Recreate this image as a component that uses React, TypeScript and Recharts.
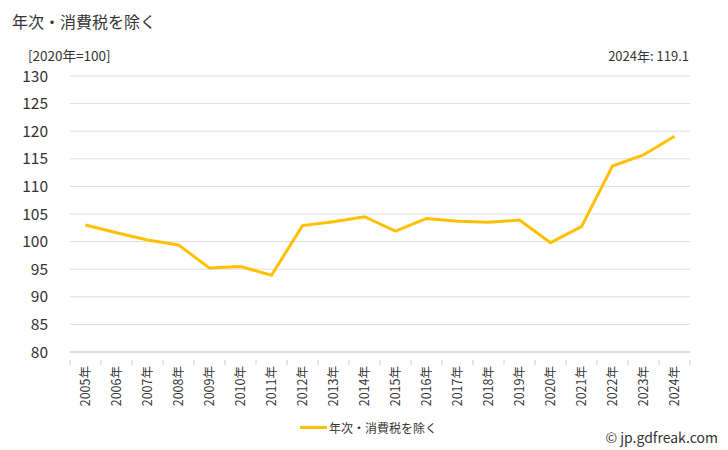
import React from 'react';
import { LineChart, Line, XAxis, YAxis, CartesianGrid } from 'recharts';

const years = ['2005年','2006年','2007年','2008年','2009年','2010年','2011年','2012年','2013年','2014年','2015年','2016年','2017年','2018年','2019年','2020年','2021年','2022年','2023年','2024年'];
const values = [103.0, 101.6, 100.3, 99.4, 95.2, 95.5, 93.9, 102.9, 103.6, 104.5, 101.9, 104.2, 103.7, 103.5, 103.9, 99.8, 102.7, 113.7, 115.7, 119.1];
const yTicks = [80, 85, 90, 95, 100, 105, 110, 115, 120, 125, 130];
const seriesName = '年次・消費税を除く';

const data = years.map((y, i) => ({ year: y, value: values[i] }));

const FONT = '"Noto Sans CJK JP", "Noto Sans", sans-serif';
const COLOR = '#FFC000';

const XTick = (props: any) => {
  const { x, y, payload, index } = props;
  const band = 31;
  const isLast = index === years.length - 1;
  return (
    <g>
      <line x1={x - band / 2} y1={y} x2={x - band / 2} y2={y + 5} stroke="#cccccc" />
      {isLast && <line x1={x + band / 2} y1={y} x2={x + band / 2} y2={y + 5} stroke="#cccccc" />}
      <text
        x={0}
        y={0}
        transform={`translate(${x + 4},${y + 6}) rotate(-90)`}
        textAnchor="end"
        fontSize={12.5}
        fill="#333"
        fontFamily={FONT}
      >
        {payload.value}
      </text>
    </g>
  );
};

export default function App() {
  return (
    <div style={{ position: 'absolute', left: 0, top: 0, width: 728, height: 450, background: '#fff', fontFamily: FONT }}>
      <div style={{ position: 'absolute', left: 12, top: 9, fontSize: 16, color: '#333' }}>{seriesName}</div>
      <div style={{ position: 'absolute', left: 28, top: 45, fontSize: 13.5, color: '#333' }}>[2020年=100]</div>
      <div style={{ position: 'absolute', right: 39, top: 46, fontSize: 13, color: '#333' }}>2024年: 119.1</div>
      <LineChart
        width={728}
        height={450}
        data={data}
        margin={{ top: 76, right: 38, bottom: 38, left: 0 }}
      >
        <CartesianGrid horizontal vertical={false} stroke="#dddddd" />
        <XAxis
          dataKey="year"
          interval={0}
          tick={<XTick />}
          tickLine={false}
          axisLine={{ stroke: '#cccccc' }}
          height={60}
          padding={{ left: 15.5, right: 15.5 }}
        />
        <YAxis
          domain={[80, 130]}
          ticks={yTicks}
          interval={0}
          width={70}
          tickLine={false}
          axisLine={false}
          tick={{ fontSize: 15.5, fill: '#333', fontFamily: FONT }}
          tickMargin={16}
        />
        <Line
          type="linear"
          dataKey="value"
          name={seriesName}
          stroke={COLOR}
          strokeWidth={3}
          dot={false}
          isAnimationActive={false}
        />
      </LineChart>
      <div style={{ position: 'absolute', left: 300, top: 419, display: 'flex', alignItems: 'center', fontSize: 12, color: '#333' }}>
        <span style={{ display: 'inline-block', width: 27, height: 3, background: COLOR, marginRight: 2 }} />
        <span>{seriesName}</span>
      </div>
      <div style={{ position: 'absolute', right: 10, top: 427, fontSize: 14, color: '#333' }}>© jp.gdfreak.com</div>
    </div>
  );
}
